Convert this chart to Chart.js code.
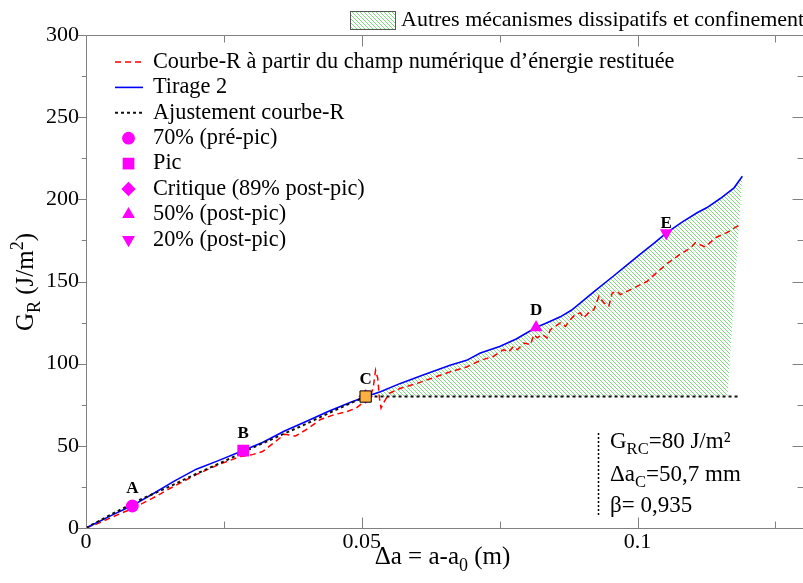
<!DOCTYPE html>
<html lang="fr">
<head>
<meta charset="utf-8">
<title>Courbe-R et tirage 2</title>
<script src="https://cdn.jsdelivr.net/npm/chart.js@4.4.1/dist/chart.umd.min.js"></script>
<style>
  html, body { margin: 0; padding: 0; background: #fff; }
  canvas { display: block; }
</style>
</head>
<body>
<canvas id="grChart" width="803" height="583"></canvas>
<script>
// Courbe-R à partir du champ numérique d'énergie restituée
const courbeRX = [0, 0.002, 0.005, 0.0085, 0.012, 0.016, 0.020, 0.024, 0.028, 0.030, 0.032, 0.0345,
  0.036, 0.038, 0.040, 0.0425, 0.045, 0.047, 0.049, 0.0505, 0.0515, 0.0521, 0.0525, 0.0529, 0.0532,
  0.0535, 0.0541, 0.055, 0.057, 0.060, 0.063, 0.066, 0.069, 0.0715, 0.0739, 0.0757, 0.0766, 0.0775,
  0.0782, 0.0794, 0.0806, 0.0812, 0.0818, 0.0827, 0.0836, 0.0842, 0.0851, 0.086, 0.0869, 0.0878,
  0.0887, 0.0896, 0.0902, 0.0911, 0.0921, 0.093, 0.0939, 0.0948, 0.0954, 0.0963, 0.0969, 0.0981,
  0.0999, 0.1017, 0.1035, 0.1054, 0.1075, 0.1096, 0.1105, 0.1123, 0.1141, 0.115, 0.1162, 0.1171, 0.1187];
const courbeRY = [0, 2.5, 7, 12, 18, 25.5, 32.5, 38.5, 43.5, 44.5, 46.5, 53,
  57, 56, 60, 66, 69, 70.5, 73, 77, 79, 86, 96, 91, 79,
  73, 77, 82, 85, 88, 91.5, 95, 98, 102, 104.5, 108.5, 107, 110.5,
  108.5, 112.6, 111.6, 117.7, 115.7, 117.7, 115.7, 120.7, 122.7, 124.8, 122.7, 126.8,
  129.9, 130.9, 127.9, 130.9, 132.9, 141, 137, 135, 143, 144, 142, 144,
  147, 150, 155.5, 161, 166, 170.5, 173.6, 171, 176.6, 178, 179.7, 181.7, 184.8];

// Tirage 2
const tirageX = [0, 0.005, 0.0085, 0.012, 0.016, 0.020, 0.024, 0.0285, 0.032, 0.036, 0.040, 0.044,
  0.048, 0.0507, 0.0535, 0.057, 0.061, 0.066, 0.069, 0.0715, 0.075, 0.078, 0.0816, 0.084, 0.086,
  0.088, 0.0902, 0.092, 0.0957, 0.098, 0.1005, 0.103, 0.1052, 0.108, 0.1108, 0.1126, 0.115, 0.1175, 0.119];
const tirageY = [0, 8.3, 13.8, 20.5, 28.5, 35.8, 41, 47.1, 52, 59, 65, 71,
  76.5, 79.8, 83, 88, 93, 99, 102, 106.5, 110.5, 115, 122, 125.5, 128.5,
  132.5, 138.5, 143.5, 153.5, 159.8, 166.6, 173.4, 179.5, 186, 191.8, 195, 200.5, 207, 214];

// Ajustement courbe-R
const ajustX = [0, 0.005, 0.010, 0.015, 0.020, 0.025, 0.030, 0.035, 0.040, 0.045, 0.0507, 0.1183];
const ajustY = [0, 9, 17.5, 25, 33, 40.5, 48.5, 56, 63.5, 71.5, 80, 80];

// Points remarquables
const pointNames = ['A', 'B', 'C', 'D', 'E'];
const pointX = [0.0084, 0.0285, 0.0507, 0.0816, 0.1052];
const pointY = [13.4, 47.1, 80, 122, 179.5];

// Zone "autres mécanismes" : sous le tirage 2, au-dessus de G_RC
const zoneDebut = 0.0507;
const zoneFin = 0.1163;
const zoneBase = 80;

const xTicks = [0, 0.05, 0.1];
const xMinorTicks = [0.025, 0.075, 0.125];
const yTicks = [0, 50, 100, 150, 200, 250, 300];
const yMinorTicks = [25, 75, 125, 175, 225, 275];

const legendLabels = [
  'Courbe-R à partir du champ numérique d’énergie restituée',
  'Tirage 2',
  'Ajustement courbe-R',
  '70% (pré-pic)',
  'Pic',
  'Critique (89% post-pic)',
  '50% (post-pic)',
  '20% (post-pic)'
];

const SERIF = '"Liberation Serif", "Times New Roman", serif';
const MAGENTA = '#ff00ff';

const toXY = (xs, ys) => xs.map((x, i) => ({ x: x, y: ys[i] }));
const pt = i => [{ x: pointX[i], y: pointY[i] }];

function hatchPattern(ctx) {
  const c = document.createElement('canvas');
  c.width = 4; c.height = 4;
  const g = c.getContext('2d');
  g.fillStyle = '#7fdc7f';
  for (let i = 0; i < 4; i++) g.fillRect(i, i, 1, 1);
  return ctx.createPattern(c, 'repeat');
}

// texte avec indices / exposants : runs = [[texte, ''|'sub'|'sup'], ...]
function richText(ctx, x, y, runs, size, align) {
  const fontOf = r => (r[1] ? size * 0.72 : size) + 'px ' + SERIF;
  let w = 0;
  runs.forEach(r => { ctx.font = fontOf(r); w += ctx.measureText(r[0]).width; });
  let cx = align === 'center' ? x - w / 2 : x;
  ctx.textAlign = 'left';
  ctx.textBaseline = 'alphabetic';
  runs.forEach(r => {
    ctx.font = fontOf(r);
    const dy = r[1] === 'sub' ? size * 0.26 : (r[1] === 'sup' ? -size * 0.42 : 0);
    ctx.fillText(r[0], cx, y + dy);
    cx += ctx.measureText(r[0]).width;
  });
}

function marker(ctx, ds, x, y) {
  ctx.save();
  ctx.fillStyle = ds.backgroundColor;
  ctx.strokeStyle = ds.borderColor || ds.backgroundColor;
  ctx.lineWidth = ds.borderWidth || 0;
  Chart.helpers.drawPoint(ctx, {
    pointStyle: ds.pointStyle, radius: ds.pointRadius,
    rotation: ds.rotation || 0, borderWidth: ds.borderWidth || 0
  }, x, y);
  ctx.restore();
}

const decorPlugin = {
  id: 'decor',
  beforeDatasetsDraw(chart) {
    const { ctx, scales: { x, y } } = chart;
    // zone hachurée entre le tirage 2 et G_RC
    ctx.save();
    ctx.beginPath();
    ctx.moveTo(x.getPixelForValue(zoneDebut), y.getPixelForValue(zoneBase));
    tirageX.forEach((v, i) => {
      if (v > zoneDebut) ctx.lineTo(x.getPixelForValue(v), y.getPixelForValue(tirageY[i]));
    });
    ctx.lineTo(x.getPixelForValue(zoneFin), y.getPixelForValue(zoneBase));
    ctx.closePath();
    ctx.fillStyle = hatchPattern(ctx);
    ctx.fill();
    ctx.restore();
  },
  afterDraw(chart) {
    const { ctx, chartArea: a, scales: { x, y } } = chart;
    const L = Math.round(a.left) + 0.5, T = Math.round(a.top) + 0.5, B = Math.round(a.bottom) + 0.5;
    const R = Math.round(a.right) - 0.5;
    ctx.save();

    // cadre et graduations
    ctx.strokeStyle = '#808080';
    ctx.lineWidth = 1;
    ctx.beginPath();
    ctx.moveTo(L, T); ctx.lineTo(R + 1, T);
    ctx.moveTo(L, T); ctx.lineTo(L, B);
    ctx.moveTo(L, B); ctx.lineTo(R + 1, B);
    const xt = (v, len) => {
      const px = Math.round(x.getPixelForValue(v)) + 0.5;
      ctx.moveTo(px, B); ctx.lineTo(px, B - len);
      ctx.moveTo(px, T); ctx.lineTo(px, T + len);
    };
    const yt = (v, len) => {
      const py = Math.round(y.getPixelForValue(v)) + 0.5;
      ctx.moveTo(L, py); ctx.lineTo(L - len * 0.8, py);
      ctx.moveTo(R + 1, py); ctx.lineTo(R + 1 - len, py);
    };
    xTicks.forEach(v => xt(v, 11));
    xMinorTicks.forEach(v => xt(v, 7));
    yTicks.forEach(v => yt(v, 11));
    yMinorTicks.forEach(v => yt(v, 6));
    ctx.stroke();

    ctx.fillStyle = '#000';
    // titres des axes
    richText(ctx, (a.left + a.right) / 2 - 2, 564,
      [['Δa = a-a', ''], ['0', 'sub'], [' (m)', '']], 25, 'center');
    ctx.save();
    ctx.translate(33, 282);
    ctx.rotate(-Math.PI / 2);
    richText(ctx, 0, 0, [['G', ''], ['R', 'sub'], [' (J/m', ''], ['2', 'sup'], [')', '']], 25, 'center');
    ctx.restore();

    // étiquettes A..E
    ctx.font = 'bold 17px ' + SERIF;
    ctx.textAlign = 'center';
    ctx.textBaseline = 'alphabetic';
    pointNames.forEach((n, i) => {
      const ds = chart.data.datasets[3 + i];
      const off = ds.rotation ? 5 : 13;
      ctx.fillText(n, x.getPixelForValue(pointX[i]), y.getPixelForValue(pointY[i]) - off);
    });

    // légende
    const rowY = i => 62 + i * 25.4;
    chart.data.datasets.slice(0, 8).forEach((ds, i) => {
      const cy = rowY(i);
      if (i < 3) {
        ctx.save();
        ctx.strokeStyle = ds.borderColor;
        ctx.lineWidth = ds.borderWidth;
        ctx.setLineDash(ds.borderDash || []);
        ctx.beginPath();
        ctx.moveTo(115, cy); ctx.lineTo(143, cy);
        ctx.stroke();
        ctx.restore();
      } else {
        marker(ctx, ds, 128.5, cy);
      }
      ctx.fillStyle = '#000';
      ctx.font = '22.3px ' + SERIF;
      ctx.textAlign = 'left';
      ctx.textBaseline = 'middle';
      ctx.fillText(legendLabels[i], 153, cy);
    });

    // légende de la zone hachurée
    ctx.fillStyle = hatchPattern(ctx);
    ctx.fillRect(350, 11, 45, 18);
    ctx.strokeStyle = '#555';
    ctx.strokeRect(350.5, 11.5, 45, 18);
    ctx.fillStyle = '#000';
    ctx.font = '22px ' + SERIF;
    ctx.textAlign = 'left';
    ctx.textBaseline = 'middle';
    ctx.fillText('Autres mécanismes dissipatifs et confinement', 401, 20);

    // paramètres de l'ajustement
    ctx.save();
    ctx.strokeStyle = '#000';
    ctx.lineWidth = 1.5;
    ctx.setLineDash([2, 2]);
    ctx.beginPath();
    ctx.moveTo(598.5, 433); ctx.lineTo(598.5, 516);
    ctx.stroke();
    ctx.restore();
    ctx.fillStyle = '#000';
    richText(ctx, 610, 448, [['G', ''], ['RC', 'sub'], ['=80 J/m²', '']], 23, 'left');
    richText(ctx, 610, 481, [['Δa', ''], ['C', 'sub'], ['=50,7 mm', '']], 23, 'left');
    richText(ctx, 610, 512, [['β= 0,935', '']], 23, 'left');

    ctx.restore();
  }
};

const lineDefaults = { showLine: true, pointRadius: 0, pointHoverRadius: 0, tension: 0, fill: false };
const markerDefaults = { backgroundColor: MAGENTA, borderWidth: 0, pointHoverRadius: 0 };

new Chart(document.getElementById('grChart'), {
  type: 'scatter',
  data: {
    datasets: [
      Object.assign({ label: legendLabels[0], data: toXY(courbeRX, courbeRY), borderColor: '#ff0000',
        borderWidth: 1.5, borderDash: [6, 4], order: 7 }, lineDefaults),
      Object.assign({ label: legendLabels[1], data: toXY(tirageX, tirageY), borderColor: '#0000ff',
        borderWidth: 1.6, order: 6 }, lineDefaults),
      Object.assign({ label: legendLabels[2], data: toXY(ajustX, ajustY), borderColor: '#111',
        borderWidth: 2, borderDash: [3, 3], order: 5 }, lineDefaults),
      Object.assign({ label: legendLabels[3], data: pt(0), pointStyle: 'circle', pointRadius: 6.4, order: 3 }, markerDefaults),
      Object.assign({ label: legendLabels[4], data: pt(1), pointStyle: 'rect', pointRadius: 8.3, order: 3 }, markerDefaults),
      Object.assign({ label: legendLabels[5], data: pt(2), pointStyle: 'rectRot', pointRadius: 7.2, order: 3 }, markerDefaults),
      Object.assign({ label: legendLabels[6], data: pt(3), pointStyle: 'triangle', pointRadius: 7.4, order: 3 }, markerDefaults),
      Object.assign({ label: legendLabels[7], data: pt(4), pointStyle: 'triangle', rotation: 180, pointRadius: 7.4, order: 3 }, markerDefaults),
      // point critique C (carré orange par-dessus)
      { label: 'C', data: pt(2), pointStyle: 'rect', pointRadius: 8, backgroundColor: '#fbb040',
        borderColor: '#000', borderWidth: 1, pointHoverRadius: 0, order: 0 }
    ]
  },
  options: {
    responsive: false,
    animation: false,
    events: [],
    layout: { autoPadding: false, padding: { top: 35, right: 0, left: 0, bottom: 0 } },
    plugins: { legend: { display: false }, tooltip: { enabled: false } },
    scales: {
      x: {
        type: 'linear', min: 0, max: 0.13,
        grid: { display: false, drawTicks: false }, border: { display: false },
        afterBuildTicks: s => { s.ticks = xTicks.map(v => ({ value: v })); },
        afterFit: s => { s.height = 55; },
        ticks: { color: '#000', font: { family: SERIF, size: 22 }, padding: 1, maxRotation: 0,
          autoSkip: false, callback: v => String(v) }
      },
      y: {
        type: 'linear', min: 0, max: 300,
        grid: { display: false, drawTicks: false }, border: { display: false },
        afterBuildTicks: s => { s.ticks = yTicks.map(v => ({ value: v })); },
        afterFit: s => { s.width = 86; },
        ticks: { color: '#000', font: { family: SERIF, size: 22 }, padding: 7, autoSkip: false }
      }
    }
  },
  plugins: [decorPlugin]
});
</script>
</body>
</html>
